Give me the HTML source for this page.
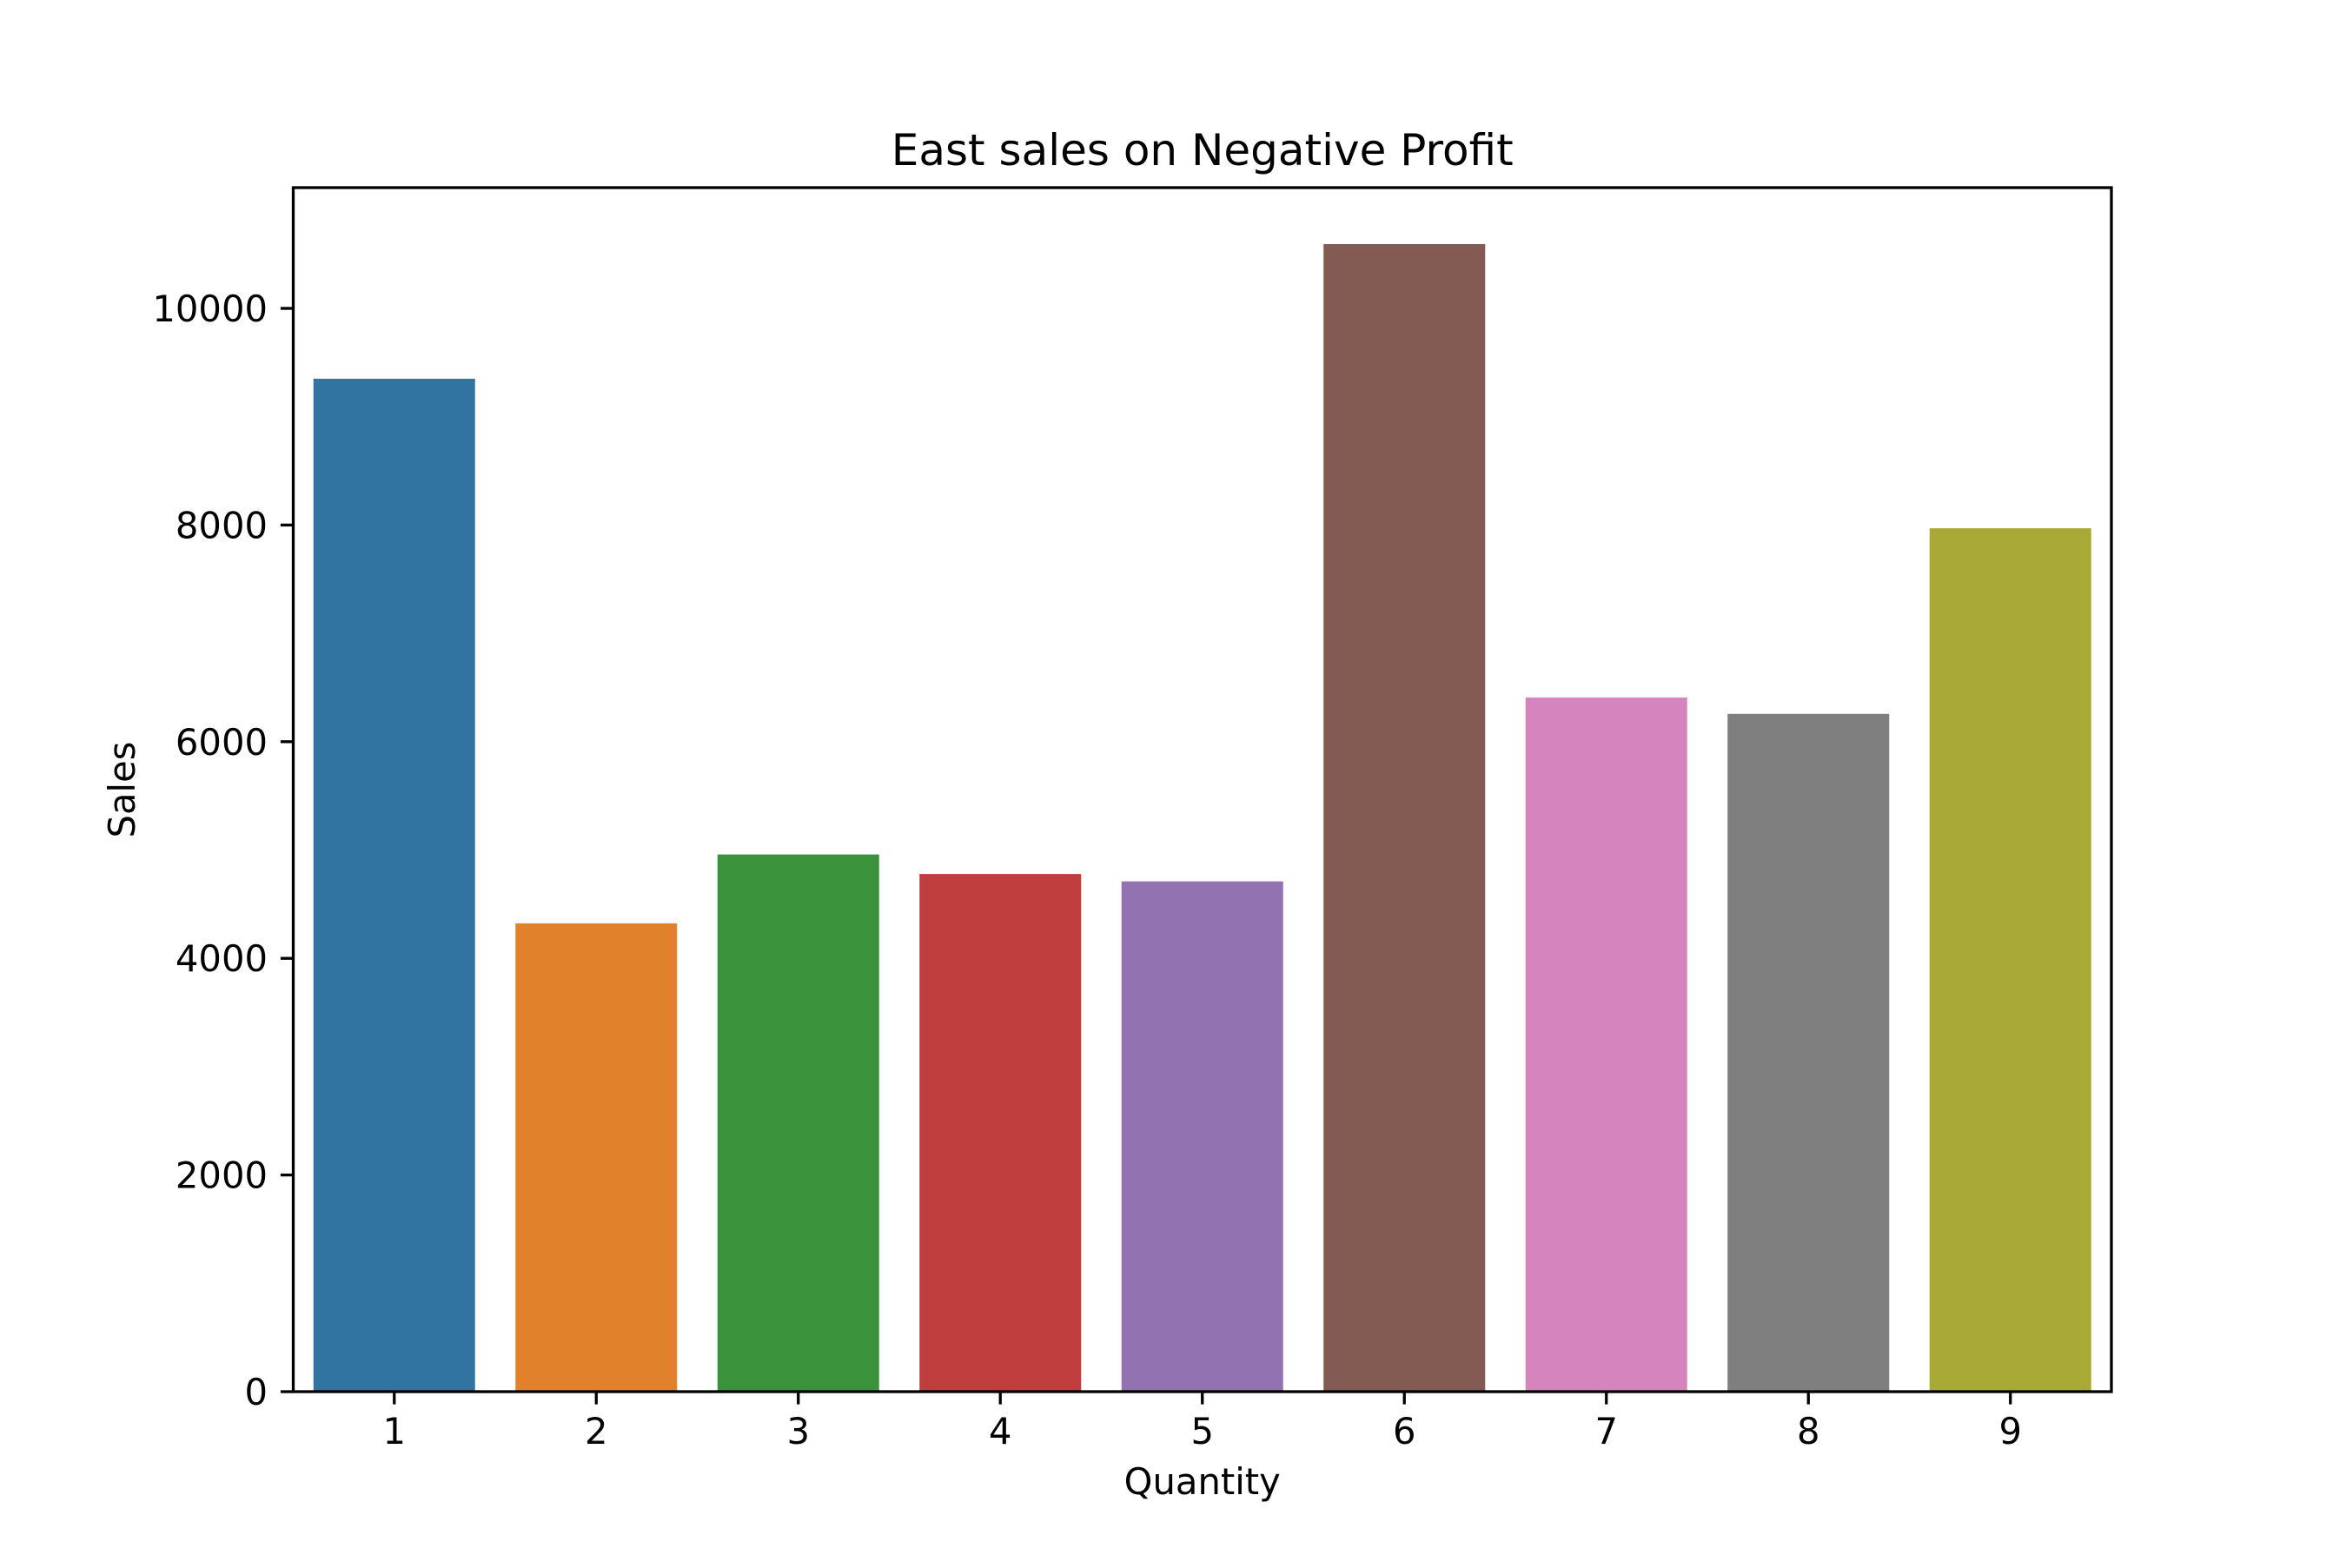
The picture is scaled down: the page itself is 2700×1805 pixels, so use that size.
<!DOCTYPE html>
<html><head><meta charset="utf-8"><style>html,body{margin:0;padding:0;background:#fff}</style></head>
<body>
<svg width="2700" height="1800" viewBox="0 0 2700 1800" xmlns="http://www.w3.org/2000/svg" font-family="'DejaVu Sans','Liberation Sans',sans-serif">
<rect width="2700" height="1800" fill="#fff"/>
<g>
<rect x="360.75" y="436" width="186" height="1166" fill="#3274a1"/>
<rect x="593.25" y="1062.9" width="186" height="539.1" fill="#e1812c"/>
<rect x="825.75" y="983.6" width="186" height="618.4" fill="#3a923a"/>
<rect x="1058.25" y="1006.1" width="186" height="595.9" fill="#c03d3e"/>
<rect x="1290.75" y="1014.6" width="186" height="587.4" fill="#9372b2"/>
<rect x="1523.25" y="281" width="186" height="1321" fill="#845b53"/>
<rect x="1755.75" y="802.9" width="186" height="799.1" fill="#d684bd"/>
<rect x="1988.25" y="821.8" width="186" height="780.2" fill="#7f7f7f"/>
<rect x="2220.75" y="608.1" width="186" height="993.9" fill="#a9aa35"/>
</g>
<rect x="337.5" y="216" width="2092.5" height="1386" fill="none" stroke="#000" stroke-width="3.3"/>
<g stroke="#000" stroke-width="3.3">
<line x1="337.5" x2="322.9" y1="1602" y2="1602"/>
<line x1="337.5" x2="322.9" y1="1352.6" y2="1352.6"/>
<line x1="337.5" x2="322.9" y1="1103.2" y2="1103.2"/>
<line x1="337.5" x2="322.9" y1="853.8" y2="853.8"/>
<line x1="337.5" x2="322.9" y1="604.4" y2="604.4"/>
<line x1="337.5" x2="322.9" y1="355" y2="355"/>
<line y1="1602" y2="1616.6" x1="453.75" x2="453.75"/>
<line y1="1602" y2="1616.6" x1="686.25" x2="686.25"/>
<line y1="1602" y2="1616.6" x1="918.75" x2="918.75"/>
<line y1="1602" y2="1616.6" x1="1151.25" x2="1151.25"/>
<line y1="1602" y2="1616.6" x1="1383.75" x2="1383.75"/>
<line y1="1602" y2="1616.6" x1="1616.25" x2="1616.25"/>
<line y1="1602" y2="1616.6" x1="1848.75" x2="1848.75"/>
<line y1="1602" y2="1616.6" x1="2081.25" x2="2081.25"/>
<line y1="1602" y2="1616.6" x1="2313.75" x2="2313.75"/>
</g>
<g font-size="41.7" fill="#000" text-anchor="end">
<text x="308" y="1617">0</text>
<text x="308" y="1367.6">2000</text>
<text x="308" y="1118.2">4000</text>
<text x="308" y="868.8">6000</text>
<text x="308" y="619.4">8000</text>
<text x="308" y="370">10000</text>
</g>
<g font-size="41.7" fill="#000" text-anchor="middle">
<text x="453.75" y="1662">1</text>
<text x="686.25" y="1662">2</text>
<text x="918.75" y="1662">3</text>
<text x="1151.25" y="1662">4</text>
<text x="1383.75" y="1662">5</text>
<text x="1616.25" y="1662">6</text>
<text x="1848.75" y="1662">7</text>
<text x="2081.25" y="1662">8</text>
<text x="2313.75" y="1662">9</text>
<text x="1383.75" y="1720">Quantity</text>
<text transform="translate(155,909) rotate(-90)">Sales</text>
<text x="1383.75" y="190" font-size="50">East sales on Negative Profit</text>
</g>
</svg>
</body></html>
